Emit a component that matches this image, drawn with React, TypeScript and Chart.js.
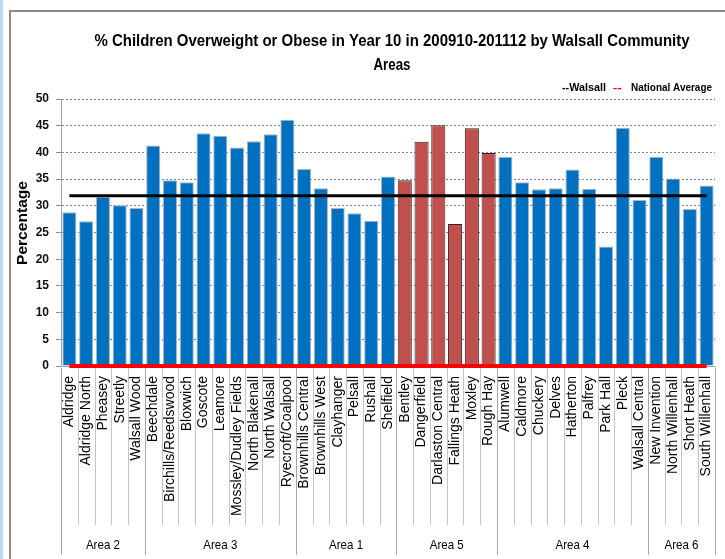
import React, { useEffect, useRef } from "react";
import { Chart, registerables } from "chart.js";

Chart.register(...registerables);

// Walsall community areas, in chart order (grouped by area committee)
const communityAreas = [
  "Aldridge", "Aldridge North", "Pheasey", "Streetly", "Walsall Wood",
  "Beechdale", "Birchills/Reedswood", "Bloxwich", "Goscote", "Leamore",
  "Mossley/Dudley Fields", "North Blakenall", "North Walsall", "Ryecroft/Coalpool",
  "Brownhills Central", "Brownhills West", "Clayhanger", "Pelsall", "Rushall", "Shelfield",
  "Bentley", "Dangerfield", "Darlaston Central", "Fallings Heath", "Moxley", "Rough Hay",
  "Alumwell", "Caldmore", "Chuckery", "Delves", "Hatherton", "Palfrey", "Park Hall",
  "Pleck", "Walsall Central",
  "New Invention", "North Willenhall", "Short Heath", "South Willenhall",
];

// % of Year 10 children overweight or obese, 2009/10-2011/12
const overweightPct = [
  28.8, 27.1, 31.7, 30.1, 29.6,
  41.3, 34.8, 34.4, 43.6, 43.1, 40.9, 42.1, 43.4, 46.1,
  36.9, 33.3, 29.6, 28.6, 27.2, 35.5,
  34.8, 42.0, 45.1, 26.6, 44.5, 39.9,
  39.2, 34.4, 33.1, 33.3, 36.8, 33.2, 22.4, 44.6, 31.1,
  39.2, 35.1, 29.4, 33.8,
];

const areaGroups = ["Area 2", "Area 3", "Area 1", "Area 5", "Area 4", "Area 6"];
const groupSizes = [5, 9, 6, 6, 9, 4];
const highlightedGroup = "Area 5";

const walsallAverage = 31.9;
const nationalAverage = 0;

const yTicks = [0, 5, 10, 15, 20, 25, 30, 35, 40, 45, 50];

const titleLines = [
  "% Children Overweight or Obese in Year 10 in 200910-201112 by Walsall Community",
  "Areas",
];
const yAxisTitle = "Percentage";

const FONT = '"Liberation Sans", Arial, sans-serif';
const BLUE = "#0070C0";
const RED = "#C0504D";

// group name for every bar
const groupOfBar: string[] = [];
areaGroups.forEach((g, gi) => {
  for (let k = 0; k < groupSizes[gi]; k++) groupOfBar.push(g);
});

// draws a string squeezed/stretched horizontally to a given width
function fitText(
  ctx: CanvasRenderingContext2D,
  text: string,
  x: number,
  y: number,
  font: string,
  width: number,
  align: CanvasTextAlign,
  color: string,
  rotate = false
) {
  ctx.save();
  ctx.font = font;
  const w = ctx.measureText(text).width || 1;
  const sx = Math.max(0.7, Math.min(1.2, width / w));
  ctx.translate(x, y);
  if (rotate) ctx.rotate(-Math.PI / 2);
  ctx.scale(sx, 1);
  ctx.textAlign = align;
  ctx.textBaseline = "middle";
  ctx.fillStyle = color;
  ctx.fillText(text, 0, 0);
  ctx.restore();
}

const decorations = {
  id: "decorations",
  beforeDraw(chart: any) {
    const { ctx, width, height } = chart;
    ctx.save();
    ctx.fillStyle = "#ffffff";
    ctx.fillRect(0, 0, width, height);
    ctx.fillStyle = "#bcdaf6";
    ctx.fillRect(0, 0, 3, height);
    ctx.strokeStyle = "#8c8c8c";
    ctx.lineWidth = 2;
    ctx.beginPath();
    ctx.moveTo(10, height);
    ctx.lineTo(10, 11);
    ctx.lineTo(width, 11);
    ctx.stroke();
    ctx.restore();
  },
  afterDraw(chart: any) {
    const { ctx, chartArea } = chart;
    const xs = chart.scales.x;
    const n = communityAreas.length;
    const edge = (i: number) =>
      i === 0
        ? chartArea.left
        : i === n
        ? chartArea.right
        : (xs.getPixelForValue(i - 1) + xs.getPixelForValue(i)) / 2;

    const groupEdges = new Set<number>([0]);
    let acc = 0;
    groupSizes.forEach((s) => {
      acc += s;
      groupEdges.add(acc);
    });

    ctx.save();
    ctx.lineWidth = 1;
    for (let i = 0; i <= n; i++) {
      const x = Math.round(edge(i)) + 0.5;
      const isGroup = groupEdges.has(i);
      ctx.strokeStyle = isGroup ? "#a6a6a6" : "#c4c4c4";
      ctx.beginPath();
      ctx.moveTo(x, chartArea.bottom + 2);
      ctx.lineTo(x, isGroup ? 555 : 525);
      ctx.stroke();
    }
    ctx.restore();

    // group labels
    let start = 0;
    areaGroups.forEach((g, gi) => {
      const end = start + groupSizes[gi];
      const cx = (edge(start) + edge(end)) / 2;
      fitText(ctx, g, cx, 545, `13px ${FONT}`, 34, "center", "#000");
      start = end;
    });

    // title
    fitText(ctx, titleLines[0], 392, 42, `bold 16px ${FONT}`, 595, "center", "#000");
    fitText(ctx, titleLines[1], 392, 66, `bold 16px ${FONT}`, 37, "center", "#000");

    // legend
    fitText(ctx, "--Walsall", 562, 88, `bold 11px ${FONT}`, 44, "left", "#000");
    fitText(ctx, "--", 613, 88, `bold 11px ${FONT}`, 10, "left", "#ff0000");
    fitText(ctx, "National Average", 631, 88, `bold 11px ${FONT}`, 81, "left", "#000");

    // y-axis title
    fitText(ctx, yAxisTitle, 23, 223, `bold 14px ${FONT}`, 84, "center", "#000", true);
  },
};

export default function App() {
  const canvasRef = useRef<HTMLCanvasElement | null>(null);

  useEffect(() => {
    const canvas = canvasRef.current;
    if (!canvas) return;

    const chart = new Chart(canvas, {
      type: "bar",
      data: {
        labels: communityAreas,
        datasets: [
          {
            type: "line",
            label: "Walsall",
            data: communityAreas.map(() => walsallAverage),
            borderColor: "#000000",
            borderWidth: 3,
            pointRadius: 0,
            fill: false,
            order: 0,
            clip: false,
          } as any,
          {
            type: "line",
            label: "National Average",
            data: communityAreas.map(() => nationalAverage),
            borderColor: "#ff0000",
            borderWidth: 4,
            pointRadius: 0,
            fill: false,
            order: 1,
            clip: false,
          } as any,
          {
            type: "bar",
            label: "% Overweight or Obese",
            data: overweightPct,
            backgroundColor: groupOfBar.map((g) => (g === highlightedGroup ? RED : BLUE)),
            borderColor: groupOfBar.map((g) => (g === highlightedGroup ? "#3b2020" : "#b4b4b4")),
            borderWidth: 1,
            barPercentage: 0.84,
            categoryPercentage: 1,
            order: 2,
          },
        ],
      },
      options: {
        responsive: false,
        animation: false,
        devicePixelRatio: 1,
        layout: { padding: { top: 99, left: 12, right: 10, bottom: 0 } },
        plugins: {
          legend: { display: false },
          title: { display: false },
          tooltip: { enabled: false },
        },
        scales: {
          x: {
            offset: true,
            grid: { display: false, drawTicks: false },
            border: { display: true, color: "#a6a6a6", width: 1 },
            ticks: {
              autoSkip: false,
              maxRotation: 90,
              minRotation: 90,
              padding: 10,
              color: "#000",
              font: { family: FONT, size: 14 },
            },
            afterFit: (s: any) => {
              s.height = 193;
              s.paddingLeft = 0;
              s.paddingRight = 0;
            },
          },
          y: {
            min: 0,
            max: 50,
            afterBuildTicks: (s: any) => {
              s.ticks = yTicks.map((v) => ({ value: v }));
            },
            grid: {
              color: "rgba(80,110,150,0.8)",
              lineWidth: 1,
              drawTicks: true,
              tickLength: 5,
              tickColor: "#8c8c8c",
              tickBorderDash: [],
            } as any,
            border: { display: true, color: "#a6a6a6", width: 1, dash: [2, 2] },
            ticks: {
              padding: 7,
              color: "#111",
              font: { family: FONT, size: 12, weight: "bold" },
            },
            afterFit: (s: any) => {
              s.width = 49;
            },
          },
        },
      },
      plugins: [decorations],
    } as any);

    return () => chart.destroy();
  }, []);

  return (
    <div style={{ position: "fixed", left: 0, top: 0, width: 725, height: 559, background: "#fff" }}>
      <canvas ref={canvasRef} width={725} height={559} style={{ display: "block" }} />
    </div>
  );
}
